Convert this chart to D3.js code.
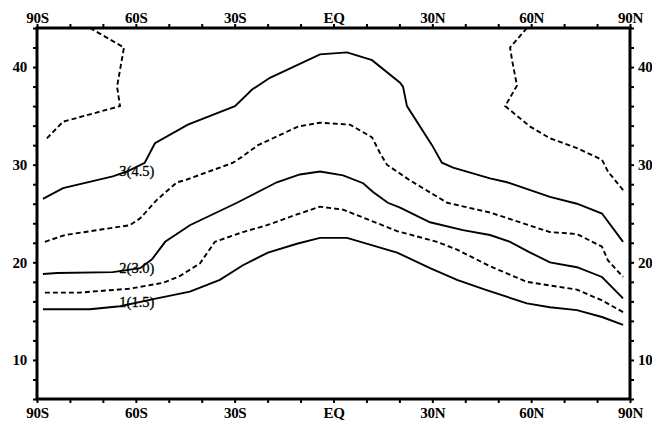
<!DOCTYPE html>
<html>
<head>
<meta charset="utf-8">
<script src="https://cdn.jsdelivr.net/npm/d3@7"></script>
<style>
  body { margin: 0; background: #fff; }
  svg { display: block; }
  .axis text { font-family: "Liberation Serif", "DejaVu Serif", serif; font-weight: bold; font-size: 15px; fill: #000; }
  .axis line { stroke: #000; stroke-width: 2; }
  .axis path { display: none; }
  .clabel { font-family: "Liberation Serif", serif; font-size: 14.5px; fill: #000; stroke: #000; stroke-width: 0.3; }
</style>
</head>
<body>
<div class="chart"></div>
<script>
// contour lines, [latitude, height]
const line45 = [[-88.2,26.5],[-82.1,27.6],[-67.0,28.8],[-62.7,29.3],[-57.3,30.2],[-54.2,32.2],[-44.2,34.1],
  [-29.9,36.0],[-24.7,37.7],[-19.3,38.9],[-4.1,41.3],[4.1,41.5],[11.7,40.7],[20.2,38.4],[21.1,38.0],[22.3,36.0],
  [29.9,32.0],[32.9,30.2],[36.3,29.7],[47.5,28.6],[52.7,28.2],[65.7,26.7],[73.9,26.0],[81.5,25.0],[87.9,22.1]];
const dash375 = [[-87.6,22.1],[-81.5,22.8],[-61.8,23.8],[-58.7,24.5],[-53.6,26.4],[-47.5,28.2],[-45.1,28.4],
  [-30.5,30.2],[-27.8,30.8],[-22.9,32.0],[-10.8,33.9],[-4.1,34.3],[5.0,34.1],[11.7,32.8],[14.1,31.2],[16.2,30.0],
  [23.2,28.4],[34.5,26.1],[47.5,25.1],[65.7,23.1],[73.9,22.9],[81.5,21.6],[83.3,20.2],[87.9,18.5]];
const line30 = [[-88.2,18.8],[-83.9,18.9],[-67.0,19.0],[-58.7,19.4],[-55.1,20.3],[-51.1,22.1],[-43.6,23.8],
  [-29.3,26.1],[-17.2,28.2],[-10.2,29.0],[-4.1,29.3],[2.9,28.9],[9.0,28.1],[12.0,27.2],[16.5,26.1],[20.2,25.6],
  [29.3,24.1],[39.3,23.3],[47.5,22.8],[53.6,22.1],[59.7,21.0],[65.7,20.0],[73.9,19.5],[81.5,18.5],[87.9,16.3]];
const dash225 = [[-87.6,16.9],[-77.0,16.9],[-61.8,17.3],[-51.7,17.9],[-46.6,18.6],[-40.5,19.9],[-36.0,22.1],
  [-27.5,23.1],[-20.2,23.8],[-11.1,24.9],[-4.1,25.7],[2.9,25.4],[11.1,24.3],[19.3,23.2],[31.4,22.1],[37.5,21.3],
  [47.5,19.6],[58.7,18.0],[73.9,17.2],[81.5,16.1],[87.9,14.9]];
const line15 = [[-88.2,15.2],[-74.0,15.2],[-64.8,15.5],[-53.6,16.3],[-43.6,17.0],[-34.5,18.2],[-27.5,19.7],
  [-19.9,21.0],[-11.1,21.9],[-4.1,22.5],[4.1,22.5],[19.3,21.0],[29.3,19.4],[37.5,18.2],[46.0,17.2],[58.7,15.8],
  [65.7,15.4],[73.9,15.1],[81.5,14.4],[87.9,13.6]];
const dashTopS = [[-87.0,32.7],[-82.1,34.4],[-64.8,36.0],[-65.7,38.0],[-63.6,42.0],[-73.9,44.0]];
const dashTopN = [[58.7,44.0],[53.6,42.0],[54.2,40.7],[55.7,38.1],[52.1,36.0],[59.7,33.9],[65.7,32.7],
  [73.9,31.7],[81.5,30.5],[83.3,29.3],[87.9,27.4]];

const solidLines = [line45, line30, line15];
const dashedLines = [dash375, dash225, dashTopS, dashTopN];

const labels = [
  {text: '3(4.5)', lat: -59.7, h: 29.4},
  {text: '2(3.0)', lat: -59.7, h: 19.4},
  {text: '1(1.5)', lat: -59.7, h: 15.9}
];

const latTicks = d3.range(-90, 91, 10);
const latNames = {'-90':'90S','-60':'60S','-30':'30S','0':'EQ','30':'30N','60':'60N','90':'90N'};
const hTicks = d3.range(6, 45, 2);

const W = 652, H = 421;
const frame = {left: 37, right: 630, top: 28, bottom: 399};

const svg = d3.select('.chart').append('svg').attr('width', W).attr('height', H);

const x = d3.scaleLinear([-90, 90], [frame.left, frame.right]);
const y = d3.scaleLinear([6, 44], [frame.bottom, frame.top]);

const latFmt = d => latNames[d] || '';
const hFmt = d => d % 10 === 0 ? d : '';

svg.append('g').attr('class','axis').attr('transform',`translate(0,${frame.top})`)
  .call(d3.axisTop(x).tickValues(latTicks).tickFormat(latFmt).tickSize(4).tickPadding(1));
svg.append('g').attr('class','axis').attr('transform',`translate(0,${frame.bottom})`)
  .call(d3.axisBottom(x).tickValues(latTicks).tickFormat(latFmt).tickSize(4).tickPadding(4));
svg.append('g').attr('class','axis').attr('transform',`translate(${frame.left},0)`)
  .call(d3.axisLeft(y).tickValues(hTicks).tickFormat(hFmt).tickSize(4).tickPadding(6));
svg.append('g').attr('class','axis').attr('transform',`translate(${frame.right},0)`)
  .call(d3.axisRight(y).tickValues(hTicks).tickFormat(hFmt).tickSize(4).tickPadding(4));

svg.selectAll('.axis text').attr('letter-spacing', '-0.3');

svg.append('rect')
  .attr('x', frame.left).attr('y', frame.top)
  .attr('width', frame.right - frame.left).attr('height', frame.bottom - frame.top)
  .attr('fill', 'none').attr('stroke', '#000').attr('stroke-width', 3);

const path = d3.line().x(d => x(d[0])).y(d => y(d[1]));

svg.selectAll('.solid').data(solidLines).join('path')
  .attr('class','solid')
  .attr('d', path)
  .attr('fill','none').attr('stroke','#000').attr('stroke-width',1.9);

svg.selectAll('.dashed').data(dashedLines).join('path')
  .attr('class','dashed')
  .attr('d', path)
  .attr('fill','none').attr('stroke','#000').attr('stroke-width',1.9)
  .attr('stroke-dasharray','5,3');

svg.selectAll('.clabel').data(labels).join('text')
  .attr('class','clabel')
  .attr('x', d => x(d.lat)).attr('y', d => y(d.h))
  .attr('text-anchor','middle').attr('dominant-baseline','central')
  .text(d => d.text);
</script>
</body>
</html>
